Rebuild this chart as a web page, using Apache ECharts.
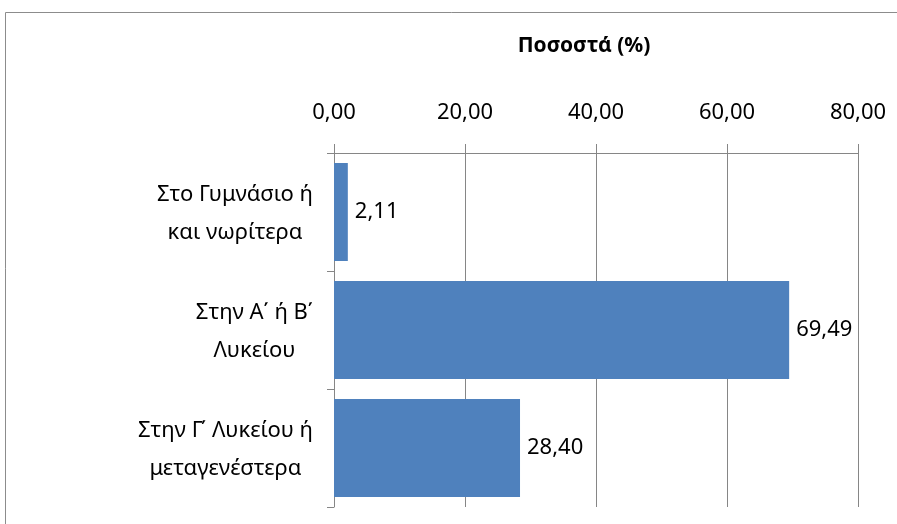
<!DOCTYPE html>
<html>
<head>
<meta charset="utf-8">
<script src="https://cdn.jsdelivr.net/npm/echarts@6/dist/echarts.min.js"></script>
<style>html,body{margin:0;padding:0;background:#fff}#c{width:897px;height:524px}</style>
</head>
<body>
<div id="c"></div>
<script>
const categories = ["Στο Γυμνάσιο ή\nκαι νωρίτερα", "Στην Α΄ ή Β΄\nΛυκείου", "Στην Γ΄ Λυκείου ή\nμεταγενέστερα"];
const values = [2.11, 69.49, 28.40];
const axisTicks = [0, 20, 40, 60, 80];
const titleText = "Ποσοστά (%)";

const FONT = "Noto Sans";
const fmt = v => Number(v).toFixed(2).replace('.', ',');
const chart = echarts.init(document.getElementById('c'), null, {renderer: 'canvas'});
chart.setOption({
  animation: false,
  backgroundColor: '#fff',
  graphic: [{
    type: 'rect', shape: {x: 5.5, y: 12.5, width: 1000, height: 1000},
    style: {fill: 'none', stroke: '#8c8c8c', lineWidth: 1}, silent: true, z: -1
  }],
  title: {
    text: titleText, left: 579, top: 31, textAlign: 'center',
    textStyle: {fontFamily: FONT, fontSize: 21, fontWeight: 'bold', color: '#000'}
  },
  grid: {left: 334, right: 39, top: 153, bottom: 17, containLabel: false},
  xAxis: {
    type: 'value', position: 'top',
    min: axisTicks[0], max: axisTicks[axisTicks.length - 1], interval: axisTicks[1] - axisTicks[0],
    axisLine: {show: true, lineStyle: {color: '#868686', width: 1}},
    axisTick: {show: true, length: 9, lineStyle: {color: '#868686'}},
    splitLine: {show: true, lineStyle: {color: '#868686', width: 1}},
    axisLabel: {formatter: fmt, margin: 29, fontFamily: FONT, fontSize: 22, color: '#000'}
  },
  yAxis: {
    type: 'category', inverse: true, data: categories,
    axisLine: {show: true, lineStyle: {color: '#868686', width: 1}},
    axisTick: {show: true, length: 7, lineStyle: {color: '#868686'}},
    axisLabel: {
      margin: 21, color: '#000', fontFamily: FONT, fontSize: 22, lineHeight: 38,
      formatter: v => v.split('\n').map(s => '{a|' + s + '}').join('\n'),
      rich: {a: {align: 'center', fontFamily: FONT, fontSize: 22, lineHeight: 38, color: '#000', padding: [4, 0, 0, 0]}}
    }
  },
  series: [{
    type: 'bar', data: values, barWidth: '83%',
    itemStyle: {color: '#4F81BD'},
    label: {show: true, position: 'right', distance: 7, formatter: p => fmt(p.value),
      fontFamily: FONT, fontSize: 22, color: '#000', padding: [4, 0, 0, 0]}
  }]
});
</script>
</body>
</html>
